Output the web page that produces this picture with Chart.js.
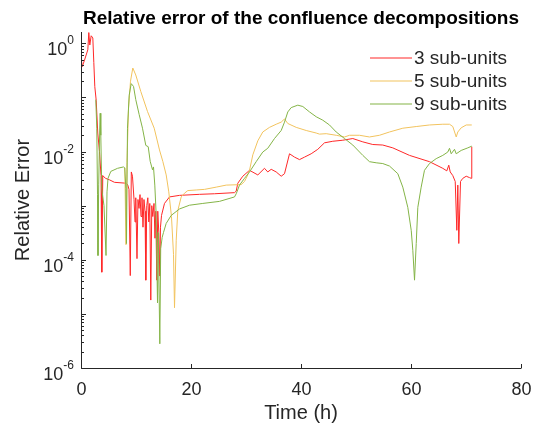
<!DOCTYPE html>
<html>
<head>
<meta charset="utf-8">
<script src="https://cdn.jsdelivr.net/npm/chart.js@4.4.1/dist/chart.umd.min.js"></script>
<style>
  html, body { margin: 0; padding: 0; background: #ffffff; }
  #graphicFirst { display: block; }
</style>
</head>
<body>
<canvas id="graphicFirst" width="538" height="429"></canvas>
<script>
// Relative error of the confluence decompositions
// Librerias: Chart.js

//--- Data: time (h) and relative error for each decomposition
const t3 = [0, 0.22, 0.64, 1.24, 1.42, 1.6, 1.85, 2.15, 2.33, 2.51, 2.76, 3.05, 3.36, 3.64, 3.78, 3.96, 4.45, 5.18, 6.09, 8.22,
  8.51, 8.73, 8.96, 9.15, 9.36, 9.64, 9.82, 9.96, 10.18, 10.36, 10.55, 10.73, 10.91, 11.09, 11.27, 11.45, 11.64, 11.78, 11.96, 12.15,
  12.33, 12.51, 12.69, 12.87, 13.05, 13.27, 13.45, 13.6, 13.78, 13.96, 14.15, 14.33, 14.45, 14.64, 15.18, 16.09, 17.91, 21.55, 24.27, 27.91,
  28.22, 28.51, 29.42, 30.64, 32.15, 33.36, 33.96, 34.58, 35.49, 36.4, 37.0, 37.91, 38.82, 39.73, 40.64, 41.85, 43.05, 44.27, 45.78, 47.6,
  49.42, 51.24, 53.05, 54.87, 56.69, 59.73, 63.36, 65.78, 66.51, 66.87, 67.13, 67.6, 68.04, 68.33, 68.51, 68.69, 69.0, 69.42, 70.04, 70.64,
  70.95, 71.05];
const err3 = [0.575, 0.37, 0.49, 0.76, 1.58, 0.93, 1.38, 1.26, 0.44, 0.158, 0.089, 0.022, 0.01, 0.0036, 5.9e-5, 0.0036, 0.0032, 0.0030, 0.0027, 0.0026,
  0.0024, 0.0020, 5.1e-5, 0.0042, 0.0035, 0.0013, 5.0e-4, 0.0014, 1.05e-4, 0.0013, 8.9e-4, 0.0016, 6.3e-4, 0.0014, 4.0e-4, 0.0013, 7.9e-4, 4.2e-5, 0.001, 0.0014,
  5.0e-4, 0.0011, 1.8e-5, 0.001, 6.3e-4, 0.0011, 2.5e-4, 7.9e-4, 4.2e-5, 7.9e-4, 3.2e-4, 5.0e-5, 4.0e-4, 6.6e-4, 0.0011, 0.00145, 0.00155, 0.00162, 0.00166, 0.00174,
  0.00186, 0.0026, 0.0035, 0.0045, 0.0037, 0.0049, 0.0042, 0.0047, 0.0042, 0.0035, 0.0039, 0.0091, 0.0079, 0.0071, 0.0079, 0.0091, 0.011, 0.0145, 0.0155, 0.0162,
  0.0174, 0.0151, 0.0135, 0.0132, 0.0117, 0.0085, 0.0065, 0.0049, 0.0044, 0.0056, 0.0042, 0.0036, 0.0028, 3.5e-4, 0.0024, 2.0e-4, 0.0028, 0.0032, 0.0035, 0.0033,
  0.0032, 0.0123];

const t5 = [7.96, 8.18, 8.36, 8.64, 9.0, 9.42, 9.96, 10.87, 12.09, 13.31, 14.27, 14.87, 15.49, 15.96, 16.45, 16.82, 17.0, 17.31, 17.6, 18.22,
  18.82, 19.42, 20.95, 22.45, 24.58, 26.4, 29.13, 29.73, 30.33, 30.64, 31.24, 32.15, 33.05, 34.27, 35.49, 36.4, 37.0, 37.6, 39.13, 40.95,
  42.76, 43.36, 44.58, 46.4, 47.91, 48.82, 50.64, 52.45, 54.27, 56.09, 58.51, 60.95, 63.36, 65.78, 67.0, 67.6, 68.22, 68.51, 69.13, 70.04,
  71.05];
const err5 = [0.0050, 1.9e-4, 0.0063, 0.063, 0.20, 0.35, 0.26, 0.129, 0.055, 0.027, 0.0107, 0.0066, 0.0037, 0.0018, 6.3e-4, 1.26e-4, 1.3e-5, 2.3e-4, 8.1e-4, 0.00145,
  0.0017, 0.0019, 0.00195, 0.0020, 0.0022, 0.0024, 0.00245, 0.0028, 0.0037, 0.0045, 0.0087, 0.0158, 0.023, 0.028, 0.032, 0.035, 0.040, 0.033, 0.028, 0.0245,
  0.022, 0.021, 0.0214, 0.020, 0.0186, 0.020, 0.020, 0.0186, 0.020, 0.023, 0.027, 0.029, 0.031, 0.032, 0.032, 0.029, 0.0186, 0.023, 0.0275, 0.031,
  0.031];

const t9 = [2.69, 2.87, 3.0, 3.09, 3.22, 3.4, 3.49, 3.6, 3.78, 4.18, 4.55, 4.73, 4.91, 5.42, 6.64, 7.73, 7.96, 8.15, 8.27, 8.45,
  8.76, 9.13, 9.55, 9.96, 10.58, 11.18, 11.78, 12.22, 12.58, 13.0, 13.18, 13.42, 13.64, 13.91, 14.05, 14.33, 14.49, 14.76, 15.0, 15.49,
  16.4, 17.91, 19.73, 22.15, 25.18, 27.91, 28.22, 28.82, 29.73, 30.64, 31.85, 33.05, 33.96, 35.18, 36.4, 37.0, 37.6, 38.22, 39.42, 40.33,
  41.55, 42.76, 43.96, 45.18, 46.4, 47.91, 49.42, 51.24, 52.45, 53.67, 54.87, 56.09, 57.6, 58.51, 59.42, 60.04, 60.33, 60.64, 60.95, 61.24,
  61.85, 62.45, 63.36, 64.58, 65.78, 66.69, 67.0, 67.31, 67.91, 68.22, 69.13, 70.33, 71.05];
const err9 = [0.091, 0.027, 0.0016, 1.2e-4, 0.0025, 0.025, 0.051, 0.020, 0.0020, 0.0010, 1.2e-4, 0.0018, 0.0032, 0.0043, 0.0049, 0.0052, 0.0050, 0.0021, 2.0e-4, 0.027,
  0.11, 0.18, 0.16, 0.091, 0.048, 0.027, 0.013, 0.0123, 0.0066, 0.0046, 0.0052, 0.0024, 7.9e-4, 1.6e-5, 3.2e-4, 2.8e-6, 1.6e-4, 2.6e-4, 3.2e-4, 4.7e-4,
  6.6e-4, 8.7e-4, 0.00102, 0.0011, 0.0012, 0.00145, 0.00166, 0.0024, 0.0032, 0.0042, 0.0065, 0.0098, 0.0115, 0.0174, 0.0245, 0.035, 0.054, 0.065, 0.072, 0.068,
  0.054, 0.044, 0.038, 0.031, 0.023, 0.0174, 0.0132, 0.0085, 0.0065, 0.0062, 0.0060, 0.0054, 0.0039, 0.0022, 9.3e-4, 3.5e-4, 1.5e-4, 4.2e-5, 2.0e-4, 9.3e-4,
  0.0022, 0.0045, 0.0060, 0.0074, 0.0085, 0.0098, 0.0115, 0.0091, 0.011, 0.0091, 0.0105, 0.0117, 0.0126];

const seriesNames = ['3 sub-units', '5 sub-units', '9 sub-units'];
const seriesColors = ['rgb(255, 40, 40)', 'rgb(242, 195, 94)', 'rgb(132, 180, 71)'];

//--- Axes
const xTickValues = [0, 20, 40, 60, 80];
const yLabelExps = [0, -2, -4, -6];
const yMin = 1e-6;
const yMax = 1.62;

const FONT = '"Liberation Sans", Arial, Helvetica, sans-serif';
const INK = '#262626';

function toPoints(xs, ys) {
  return xs.map(function (x, i) { return { x: x, y: ys[i] }; });
}

// MATLAB-like axes: left/bottom lines, inward ticks, 10^n labels, title, legend
const matlabAxes = {
  id: 'matlabAxes',
  afterDraw: function (chart) {
    const ctx = chart.ctx;
    const xs = chart.scales.x;
    const ys = chart.scales.y;
    const area = chart.chartArea;
    const left = area.left + 0.5;
    const bottom = area.bottom + 0.5;

    ctx.save();
    ctx.strokeStyle = INK;
    ctx.fillStyle = INK;
    ctx.lineWidth = 1;

    //--- axis lines
    ctx.beginPath();
    ctx.moveTo(left, area.top);
    ctx.lineTo(left, bottom);
    ctx.lineTo(area.right, bottom);
    ctx.stroke();

    //--- x ticks and labels
    ctx.font = '18px ' + FONT;
    ctx.textAlign = 'center';
    ctx.textBaseline = 'alphabetic';
    xTickValues.forEach(function (v) {
      const px = Math.round(xs.getPixelForValue(v)) + 0.5;
      ctx.beginPath();
      ctx.moveTo(px, bottom);
      ctx.lineTo(px, bottom - 4.5);
      ctx.stroke();
      ctx.fillText(String(v), px, area.bottom + 26.5);
    });

    //--- y ticks (major per decade, minor 2..9)
    for (let e = -6; e <= 0; e++) {
      for (let k = 1; k <= 9; k++) {
        const v = k * Math.pow(10, e);
        if (v < yMin || v > yMax) continue;
        const py = Math.round(ys.getPixelForValue(v)) + 0.5;
        ctx.beginPath();
        ctx.moveTo(left, py);
        ctx.lineTo(left + (k === 1 ? 4.5 : 2.5), py);
        ctx.stroke();
      }
    }

    //--- y labels 10^n
    yLabelExps.forEach(function (e) {
      const py = ys.getPixelForValue(Math.pow(10, e));
      const sup = String(e);
      ctx.font = '12px ' + FONT;
      const wSup = ctx.measureText(sup).width;
      ctx.textAlign = 'right';
      ctx.fillText(sup, area.left - 7, py + 1);
      ctx.font = '18px ' + FONT;
      ctx.fillText('10', area.left - 7 - wSup, py + 12);
    });

    //--- axis titles
    ctx.textAlign = 'center';
    ctx.font = '20px ' + FONT;
    ctx.textBaseline = 'middle';
    ctx.fillText('Time (h)', (area.left + area.right) / 2, 413);
    ctx.save();
    ctx.translate(23, (area.top + area.bottom) / 2);
    ctx.rotate(-Math.PI / 2);
    ctx.fillText('Relative Error', 0, 0);
    ctx.restore();

    //--- chart title
    ctx.fillStyle = '#000000';
    ctx.font = 'bold 19px ' + FONT;
    ctx.textBaseline = 'alphabetic';
    ctx.fillText('Relative error of the confluence decompositions', (area.left + area.right) / 2, 24);

    //--- legend
    ctx.font = '19px ' + FONT;
    ctx.textAlign = 'left';
    ctx.textBaseline = 'middle';
    ctx.lineWidth = 1.2;
    seriesNames.forEach(function (name, i) {
      const ly = 58 + i * 23;
      ctx.beginPath();
      ctx.strokeStyle = seriesColors[i];
      ctx.moveTo(370, ly);
      ctx.lineTo(412, ly);
      ctx.stroke();
      ctx.fillStyle = INK;
      ctx.fillText(name, 414, ly + 0.5);
    });
    ctx.restore();
  }
};

let chart1;
function drawFirstElement() {
  var ctx = document.getElementById('graphicFirst').getContext('2d');
  if (chart1) {
    chart1.destroy();
  }

  const lineStyle = { borderWidth: 1, pointRadius: 0, tension: 0, fill: false };

  chart1 = new Chart(ctx, {
    type: 'line',
    data: {
      datasets: [
        Object.assign({ label: seriesNames[0], data: toPoints(t3, err3), borderColor: seriesColors[0], order: 3 }, lineStyle),
        Object.assign({ label: seriesNames[1], data: toPoints(t5, err5), borderColor: seriesColors[1], order: 2 }, lineStyle),
        Object.assign({ label: seriesNames[2], data: toPoints(t9, err9), borderColor: seriesColors[2], order: 1 }, lineStyle)
      ]
    },
    options: {
      responsive: false,
      animation: false,
      devicePixelRatio: 1,
      layout: {
        padding: { left: 81, right: 17, top: 32, bottom: 61 }
      },
      scales: {
        x: { type: 'linear', min: 0, max: 80, display: false },
        y: { type: 'logarithmic', min: yMin, max: yMax, display: false }
      },
      plugins: {
        legend: { display: false },
        title: { display: false },
        tooltip: { enabled: false }
      }
    },
    plugins: [matlabAxes]
  });
}

drawFirstElement();
</script>
</body>
</html>
